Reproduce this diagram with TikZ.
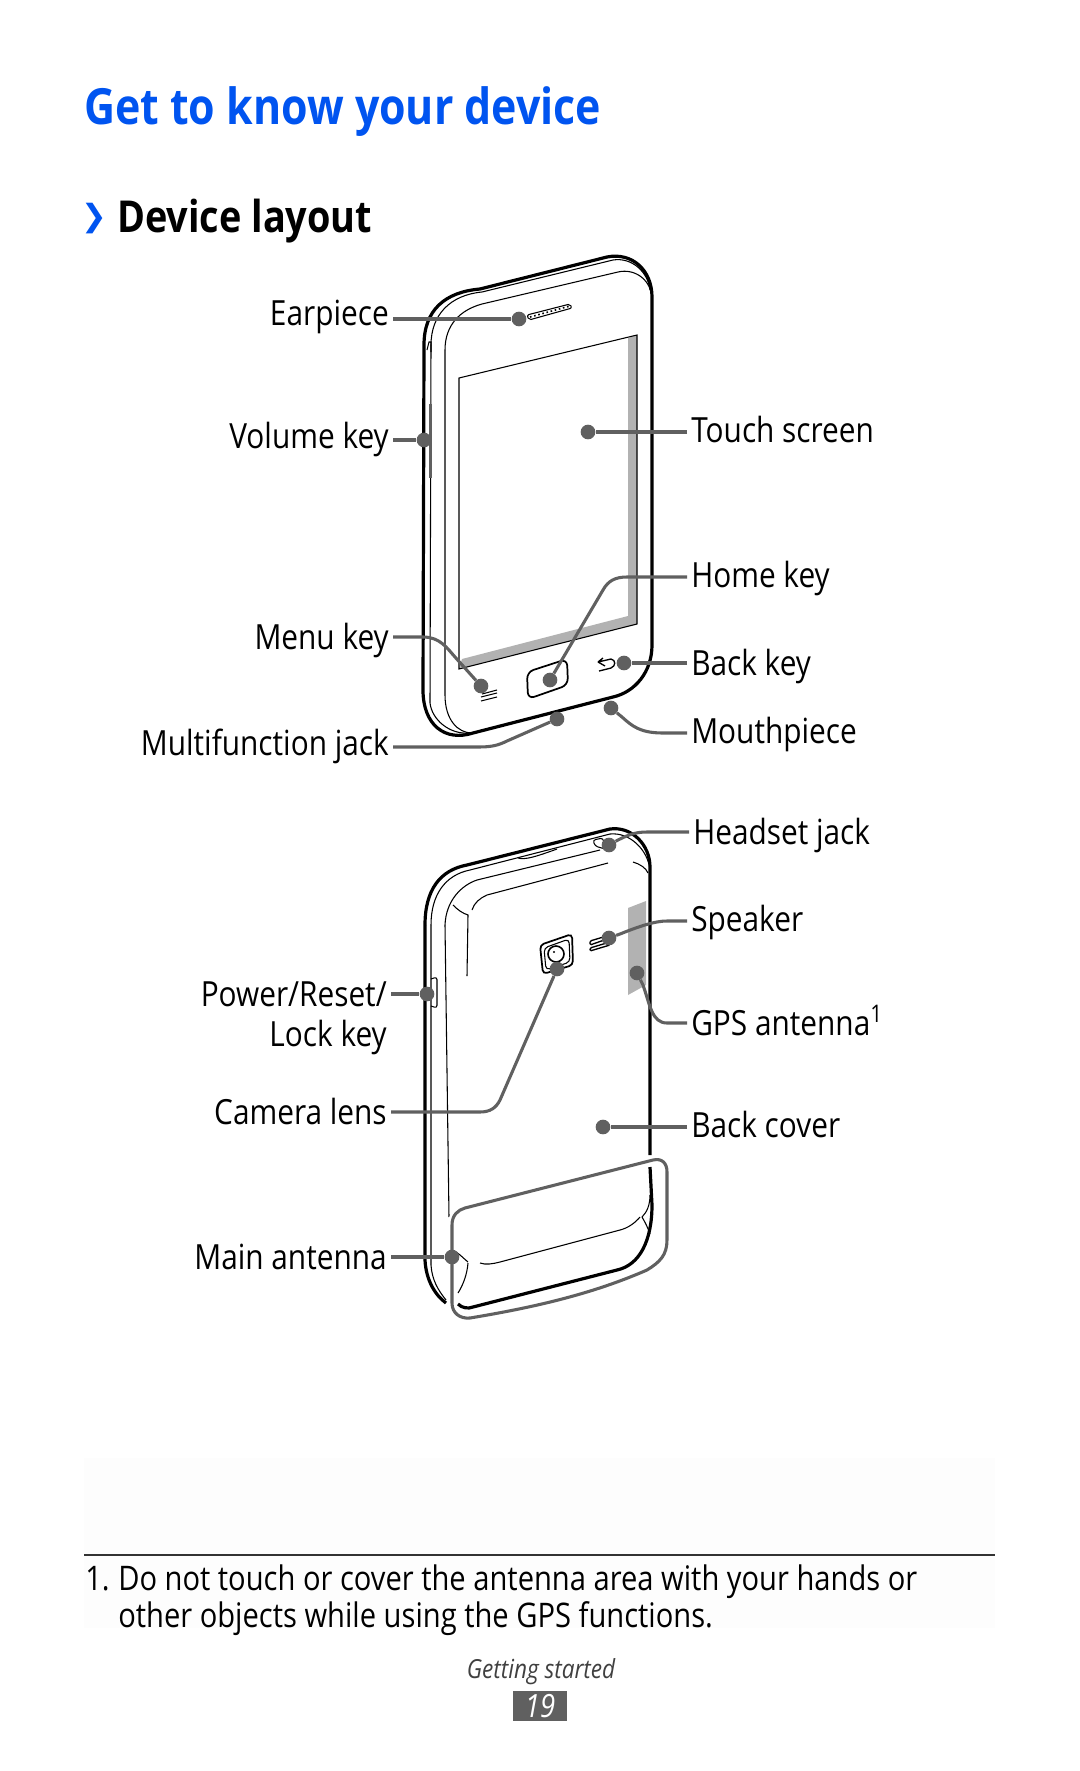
\documentclass[tikz,border=0pt]{standalone}
\usepackage{fontspec}
\setmainfont[FakeStretch=0.86]{Open Sans}
\newfontfamily\dingfont{DejaVu Sans}
\definecolor{azultitulo}{RGB}{0,84,240}
\definecolor{grislinea}{RGB}{96,96,96}
\definecolor{grisparche}{RGB}{178,178,178}
\definecolor{grispanel}{RGB}{253,253,253}
\newcommand{\labelfont}{\fontsize{26}{30}\selectfont}
\newcommand{\notefont}{\fontsize{25.4}{30}\selectfont}
\tikzset{
	phonethick/.style = {line width=2.4pt, black},
	phonethin/.style = {line width=.8pt, black},
	conn/.style = {line width=2.3pt, grislinea},
	dotmark/.style = {circle, fill=grislinea, inner sep=0pt, minimum size=11pt},
	lbl/.style = {font=\labelfont, inner xsep=3pt, inner ysep=0pt, text height=17pt, text depth=5pt, text=black},
	lblleft/.style = {lbl, anchor=east},
	lblright/.style = {lbl, anchor=west, text height=20pt},
	lbllow/.style = {text height=23pt}
}

\begin{document}
\begin{tikzpicture}[x=.75pt, y=-.75pt]
		\useasboundingbox (0,0) rectangle (1080,1771);
		\fill[white] (0,0) rectangle (1080,1771);

		% headings
		\node[anchor=base west, inner sep=0pt, text=azultitulo, font=\fontsize{37.4}{40}\selectfont\bfseries] (title) at (84,124) {Get to know your device};
		\node[anchor=base west, inner sep=0pt, text=azultitulo, font=\fontsize{23}{30}\selectfont\bfseries\dingfont] (chevron) at (81,226) {❯};
		\node[anchor=base west, inner sep=0pt, font=\fontsize{33}{36}\selectfont\bfseries] (subtitle) at (117,232) {Device layout};

		% front of the phone
		\fill[grisparche] (459,669) -- (637,624) -- (637,335) -- (628,338) -- (628,616) -- (462,659) -- cycle;
		\draw[phonethin] (459,669) -- (459,378) -- (637,335) -- (637,624) -- cycle;
		\draw[phonethick] (424,345) .. controls (424,310) and (445,292) .. (480,289) -- (607,257) .. controls (632,252) and (652,270) .. (652,297) -- (652,645) .. controls (652,672) and (635,692) .. (613,697) -- (473,733) .. controls (445,742) and (423,725) .. (423,690) -- cycle;
		\draw[phonethin] (431,345) .. controls (431,315) and (450,295) .. (482,292) -- (613,260) .. controls (632,257) and (648,272) .. (650,290);
		\draw[phonethin] (431,345) -- (430,703) .. controls (432,720) and (450,735) .. (470,733);
		\draw[phonethin] (445,350) .. controls (445,325) and (460,310) .. (482,304) -- (618,272) .. controls (635,268) and (652,280) .. (652,300);
		\draw[phonethin] (445,350) -- (445,695) .. controls (445,720) and (458,733) .. (472,733);
		\fill[grislinea] (429,404) rectangle (432,478);
		\draw[phonethin] (427,350) -- (429,342) -- (431,342) -- (431,352);
		\draw[phonethin, rounded corners=1.5pt] (527,315) -- (570,304) -- (572,308) -- (529,320) -- cycle;
		\draw[line width=1.2pt, dotted] (530,317) -- (570,306);
		\draw[line width=1.3pt, rounded corners=5pt] (527,672) -- (567,659) -- (568,685) -- (528,699) -- cycle;
		\draw[phonethin] (481,697) -- (497,693) (482,694) -- (497,690) (481,701) -- (497,697);
		\draw[line width=1pt] (598,662) -- (611,659) .. controls (616,660) and (616,666) .. (611,668) -- (599,671) (598,662) -- (603,658) (598,662) -- (605,666);

		% back of the phone
		\fill[grisparche] (628,908) -- (646,901) -- (646,985) -- (628,995) -- cycle;
		\draw[phonethick] (425,925) .. controls (425,890) and (440,870) .. (467,865) -- (610,829) .. controls (632,826) and (650,845) .. (650,867) -- (650,1155);
		\draw[phonethick] (650,1167) -- (652,1205) .. controls (652,1240) and (640,1265) .. (617,1270) -- (473,1307) .. controls (468,1309) and (462,1308) .. (458,1304);
		\draw[phonethick] (425,925) -- (425,1260) .. controls (426,1280) and (435,1295) .. (446,1303);
		\draw[phonethin] (431,925) .. controls (431,895) and (445,875) .. (470,870) -- (610,834) .. controls (630,832) and (648,850) .. (650,870);
		\draw[phonethin] (431,925) -- (431,1265) .. controls (432,1280) and (438,1290) .. (446,1300);
		\draw[phonethin] (445,925) .. controls (446,900) and (462,885) .. (477,880) -- (600,850);
		\draw[phonethin] (445,925) -- (449,1217);
		\draw[phonethin] (472,910) .. controls (474,903) and (480,898) .. (487,895) -- (608,863);
		\draw[phonethin] (453,905) .. controls (458,910) and (462,913) .. (468,915) -- (467,976);
		\draw[phonethin] (633,862) .. controls (640,864) and (646,868) .. (648,873);
		\draw[phonethin] (518,858) .. controls (525,860) and (535,857) .. (557,849);
		\draw[phonethin, rounded corners=2pt] (593,840) -- (603,838) -- (605,849) -- (595,846) -- cycle;
		\draw[line width=1.3pt, rounded corners=3pt] (540,945) -- (572,934) -- (573,965) -- (543,974) -- cycle;
		\draw[phonethin, rounded corners=3pt] (544,948) -- (569,939) -- (570,962) -- (546,970) -- cycle;
		\draw[line width=1.2pt] (556,954) circle (8);
		\fill (554,952) circle (1.2);
		\draw[line width=1pt, rounded corners=1pt] (590,941) -- (610,935) -- (610,938) -- (590,945) -- cycle;
		\draw[line width=1pt, rounded corners=1pt] (590,948) -- (610,942) -- (610,945) -- (590,951) -- cycle;
		\draw[phonethin, rounded corners=2pt] (431,979) -- (437,977) -- (437,1008) -- (431,1006);

		% antenna area of the phone
		\draw[phonethin] (480,1263) .. controls (486,1265) and (492,1264) .. (500,1262) -- (620,1230) .. controls (628,1228) and (635,1223) .. (640,1217);
		\draw[phonethin] (468,1263) .. controls (467,1275) and (463,1285) .. (458,1293);
		\draw[phonethin] (452,1250) .. controls (458,1252) and (463,1258) .. (468,1262);
		\draw[phonethin] (642,1217) .. controls (645,1222) and (648,1228) .. (650,1234);
		\draw[phonethin] (642,1217) .. controls (647,1212) and (650,1205) .. (650,1195);
		\draw[line width=2.3pt, grislinea, preaction={draw=white, line width=6pt}] (452,1225) .. controls (452,1215) and (458,1210) .. (465,1208) -- (653,1160) .. controls (662,1158) and (667,1163) .. (667,1172) -- (667,1240) .. controls (667,1255) and (660,1262) .. (647,1270) .. controls (590,1295) and (530,1308) .. (470,1318) .. controls (460,1319) and (452,1313) .. (452,1303) -- cycle;

		% labels
		\node[lblleft, text height=14pt] (lblear) at (393,319) {Earpiece};
		\node[lblleft] (lblvol) at (393,440) {Volume key};
		\node[lblleft, lbllow] (lblmenu) at (393,637) {Menu key};
		\node[lblleft] (lbljack) at (393,747) {Multifunction jack};
		\node[lblright] (lbltouch) at (687,432) {Touch screen};
		\node[lblright] (lblhome) at (687,577) {Home key};
		\node[lblright, lbllow] (lblback) at (687,663) {Back key};
		\node[lblright] (lblmouth) at (687,733) {Mouthpiece};
		\node[lblright, lbllow] (lblheadset) at (689,832) {Headset jack};
		\node[lblright] (lblspeaker) at (687,921) {Speaker};
		\node[lblright, lbllow] (lblgps) at (687,1023) {GPS antenna\textsuperscript{1}};
		\node[lblright] (lblcover) at (687,1127) {Back cover};
		\node[font=\labelfont, inner xsep=3pt, inner ysep=0pt, align=right, anchor=north east] (lblpower) at (391,981) {Power/Reset/\\Lock key};
		\node[lblleft, lbllow] (lblcamera) at (391,1112) {Camera lens};
		\node[lblleft, lbllow] (lblmain) at (391,1257) {Main antenna};

		% dots
		\node[dotmark] (dotear) at (519,319) {};
		\node[dotmark] (dotvol) at (424,440) {};
		\node[dotmark] (dotmenu) at (481,686) {};
		\node[dotmark] (dotjack) at (557,719) {};
		\node[dotmark] (dottouch) at (588,432) {};
		\node[dotmark] (dothome) at (550,680) {};
		\node[dotmark] (dotback) at (624,663) {};
		\node[dotmark] (dotmouth) at (611,708) {};
		\node[dotmark] (dotheadset) at (609,845) {};
		\node[dotmark] (dotspeaker) at (609,938) {};
		\node[dotmark] (dotgps) at (637,973) {};
		\node[dotmark] (dotcover) at (603,1127) {};
		\node[dotmark] (dotpower) at (427,994) {};
		\node[dotmark] (dotcamera) at (557,969) {};
		\node[dotmark] (dotmain) at (452,1257) {};

		% connectors
		\draw[conn] (lblear) -- (dotear);
		\draw[conn] (lblvol) -- (dotvol);
		\draw[conn] (lbltouch) -- (dottouch);
		\draw[conn] (lblback) -- (dotback);
		\draw[conn] (lblcover) -- (dotcover);
		\draw[conn] (lblmain) -- (dotmain);
		\draw[conn] (lblpower.east |- dotpower) -- (dotpower);
		\draw[conn] (lblmenu) -- (423,637) .. controls (440,637) and (447,648) .. (455,657) -- (dotmenu);
		\draw[conn] (lbljack) -- (477,747) .. controls (490,747) and (497,746) .. (507,741) -- (dotjack);
		\draw[conn] (lblhome) -- (627,577) .. controls (615,577) and (608,581) .. (603,590) -- (dothome);
		\draw[conn] (lblmouth) -- (663,733) .. controls (640,733) and (632,726) .. (622,717) -- (dotmouth);
		\draw[conn] (lblheadset) -- (647,832) .. controls (635,832) and (628,835) .. (618,840) -- (dotheadset);
		\draw[conn] (lblspeaker) -- (667,921) .. controls (655,921) and (640,926) .. (620,934) -- (dotspeaker);
		\draw[conn] (lblgps) -- (667,1023) .. controls (652,1023) and (650,1005) .. (643,985) -- (dotgps);
		\draw[conn] (lblcamera) -- (480,1112) .. controls (490,1112) and (496,1108) .. (500,1100) -- (dotcamera);

		% footnote and page number
		\node[fill=grispanel, inner sep=0pt, minimum width=683.25pt, minimum height=127.5pt, anchor=north west] (panel) at (84,1458) {};
		\coordinate (rulea) at (84,1555);
		\coordinate (ruleb) at (995,1555);
		\draw[line width=1pt, black!80] (rulea) -- (ruleb);
		\node[anchor=base west, inner sep=0pt, font=\notefont] (fnnum) at (85,1590) {1.};
		\node[anchor=base west, inner sep=0pt, font=\notefont] (fnone) at (118,1590) {Do not touch or cover the antenna area with your hands or};
		\node[anchor=base west, inner sep=0pt, font=\notefont] (fntwo) at (118,1627) {other objects while using the GPS functions.};
		\node[inner sep=0pt, font=\fontsize{19.7}{22}\selectfont\itshape, text=black!75] (section) at (541,1672) {Getting started};
		\node[fill=grislinea, text=white, inner sep=0pt, minimum width=40pt, minimum height=22pt, font=\fontsize{24}{26}\selectfont\itshape] (pagenum) at (540,1706) {19};
\end{tikzpicture}
\end{document}
